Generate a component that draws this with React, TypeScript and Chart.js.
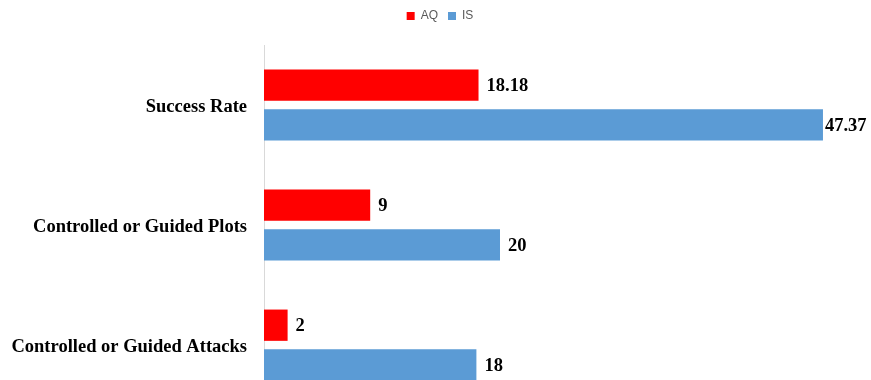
import React, { useEffect, useRef } from "react";
import { Chart, registerables } from "chart.js";

Chart.register(...registerables);

const categories = ["Success Rate", "Controlled or Guided Plots", "Controlled or Guided Attacks"];
const aqValues = [18.18, 9, 2];
const isValues = [47.37, 20, 18];
const aqLabels = ["18.18", "9", "2"];
const isLabels = ["47.37", "20", "18"];

const serif = "'Liberation Serif', 'Times New Roman', serif";

const valueLabels = {
  id: "valueLabels",
  afterDatasetsDraw(chart: any) {
    const ctx = chart.ctx;
    ctx.save();
    ctx.font = "bold 18.5px " + serif;
    ctx.fillStyle = "#000000";
    ctx.textAlign = "left";
    ctx.textBaseline = "middle";
    chart.data.datasets.forEach((ds: any, di: number) => {
      const meta = chart.getDatasetMeta(di);
      const labels = di === 0 ? aqLabels : isLabels;
      meta.data.forEach((bar: any, i: number) => {
        const w = ctx.measureText(labels[i]).width;
        let x = bar.x + 8;
        if (x + w > chart.width - 2) x = bar.x + 2;
        ctx.fillText(labels[i], x, bar.y + 1);
      });
    });
    ctx.restore();
  },
};

const legendLayout = {
  id: "legendLayout",
  beforeInit(chart: any) {
    const legend = chart.legend;
    if (!legend) return;
    const orig = legend.fit;
    legend.fit = function () {
      orig.call(this);
      this.height += 13;
    };
  },
  beforeDraw(chart: any) {
    if (chart.legend) chart.legend.left = 26;
  },
};

export default function App() {
  const ref = useRef<HTMLCanvasElement>(null);
  useEffect(() => {
    if (!ref.current) return;
    const chart = new Chart(ref.current, {
      type: "bar",
      data: {
        labels: categories,
        datasets: [
          {
            label: "AQ",
            data: aqValues,
            backgroundColor: "#ff0000",
            borderWidth: 0,
            categoryPercentage: 0.66,
            barPercentage: 0.79,
          },
          {
            label: "IS",
            data: isValues,
            backgroundColor: "#5b9bd5",
            borderWidth: 0,
            categoryPercentage: 0.66,
            barPercentage: 0.79,
          },
        ],
      },
      options: {
        indexAxis: "y",
        animation: false,
        responsive: true,
        maintainAspectRatio: false,
        layout: { padding: { top: 0, right: 17, bottom: 5, left: 0 } },
        plugins: {
          legend: {
            display: true,
            position: "top",
            labels: {
              boxWidth: 8,
              boxHeight: 8,
              padding: 10,
              color: "#595959",
              font: { size: 12, family: "'Liberation Sans', Arial, sans-serif" },
            },
          },
          tooltip: { enabled: false },
        },
        scales: {
          x: {
            display: false,
            min: 0,
            max: 50,
          },
          y: {
            grid: { display: false, drawTicks: false },
            border: { display: true, color: "#d9d9d9", width: 1 },
            ticks: {
              padding: 17,
              labelOffset: 2,
              color: "#000000",
              font: { size: 18.5, weight: "bold", family: serif },
            },
            afterFit(scale: any) {
              scale.width = 264;
              scale.paddingTop = 0;
              scale.paddingBottom = 0;
            },
          },
        },
      },
      plugins: [legendLayout, valueLabels],
    });
    return () => chart.destroy();
  }, []);
  return (
    <div style={{ position: "absolute", left: 0, top: 0, width: 871, height: 410 }}>
      <canvas ref={ref} />
    </div>
  );
}
